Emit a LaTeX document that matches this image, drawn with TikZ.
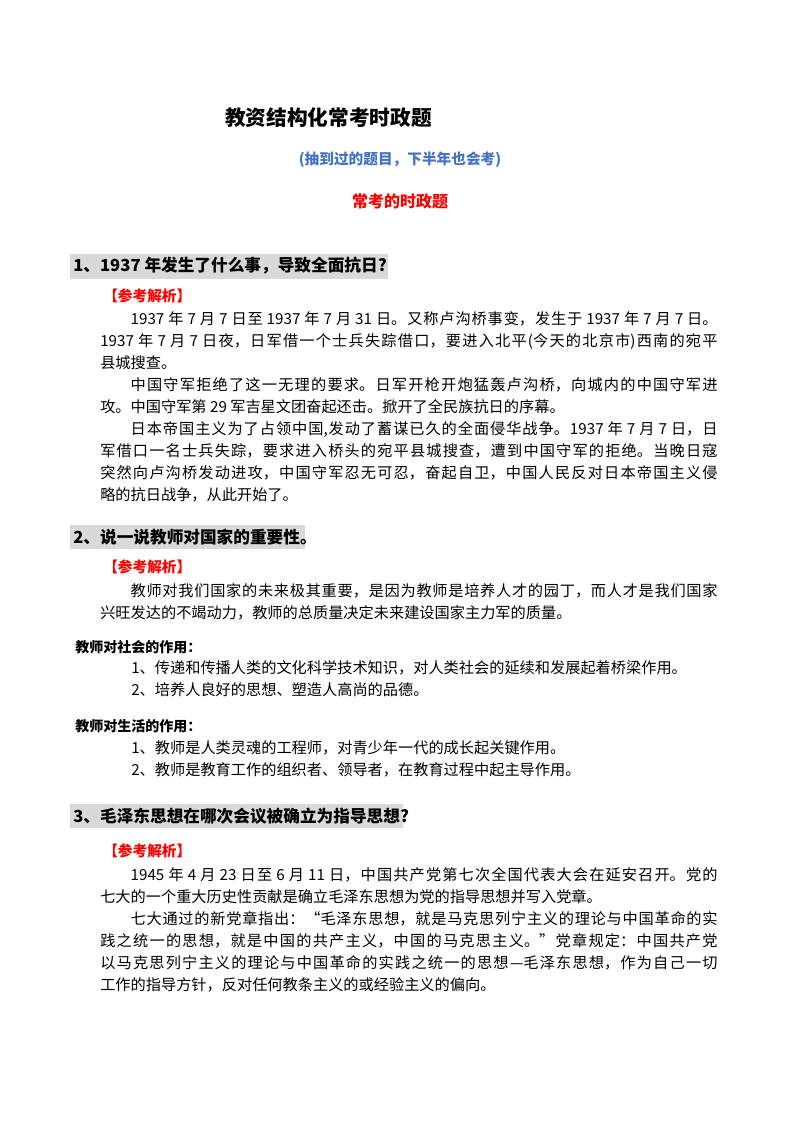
\documentclass[tikz,border=0pt]{standalone}
\usepackage{fontspec}
\setmainfont{Noto Sans CJK SC}
\XeTeXlinebreaklocale "zh"
\XeTeXlinebreakskip=0pt plus 2pt
\definecolor{hblue}{RGB}{68,114,196}
\definecolor{hred}{RGB}{255,0,0}
\definecolor{hgray}{RGB}{217,217,217}
\begin{document}
\begin{tikzpicture}[x=0.75pt,y=-0.75pt,
  para/.style={anchor=north west,inner sep=0pt,text width=463pt,align=justify,font=\fontsize{11.4pt}{16.5pt}\selectfont},
  plain/.style={anchor=west,inner sep=0pt,font=\fontsize{11.4pt}{16.5pt}\selectfont},
  ana/.style={anchor=west,inner sep=0pt,text=hred,font=\fontsize{11pt}{13pt}\selectfont\bfseries},
  head/.style={anchor=west,inner sep=0pt,font=\fontsize{12.5pt}{14pt}\selectfont\bfseries},
  sub/.style={anchor=west,inner sep=0pt,font=\fontsize{10.5pt}{13pt}\selectfont\bfseries},
  hbox/.style={fill=hgray,draw=none}]
\useasboundingbox[fill=white] (0,0) rectangle (800,1132);
\node[anchor=west,inner sep=0pt,font=\fontsize{15.5pt}{17pt}\selectfont\bfseries] (title) at (225,118) {教资结构化常考时政题};
\node[inner sep=0pt,text=hblue,font=\fontsize{11pt}{13pt}\selectfont\bfseries] (subt) at (400,160) {(抽到过的题目，下半年也会考)};
\node[inner sep=0pt,text=hred,font=\fontsize{12pt}{14pt}\selectfont\bfseries] (red) at (400,201) {常考的时政题};
% Q1
\fill[hgray] (70,254) rectangle (388,279);
\node[head] (q1) at (73,266) {1、1937 年发生了什么事，导致全面抗日?};
\node[ana] (a1) at (103,296) {【参考解析】};
\node[para] (p1a) at (100,311) {\hspace*{2em}1937 年 7 月 7 日至 1937 年 7 月 31 日。又称卢沟桥事变，发生于 1937 年 7 月 7 日。\linebreak 1937 年 7 月 7 日夜，日军借一个士兵失踪借口，要进入北平(今天的北京市)西南的宛平\linebreak 县城搜查。\par
\hspace*{2em}中国守军拒绝了这一无理的要求。日军开枪开炮猛轰卢沟桥，向城内的中国守军进\linebreak 攻。中国守军第 29 军吉星文团奋起还击。掀开了全民族抗日的序幕。\par
\hspace*{2em}日本帝国主义为了占领中国,发动了蓄谋已久的全面侵华战争。1937 年 7 月 7 日，日\linebreak 军借口一名士兵失踪，要求进入桥头的宛平县城搜查，遭到中国守军的拒绝。当晚日寇\linebreak 突然向卢沟桥发动进攻，中国守军忍无可忍，奋起自卫，中国人民反对日本帝国主义侵\linebreak 略的抗日战争，从此开始了。};
% Q2
\fill[hgray] (70,525) rectangle (305,549);
\node[head] (q2) at (73,537) {2、说一说教师对国家的重要性。};
\node[ana] (a2) at (103,567) {【参考解析】};
\node[para] (p2) at (100,583) {\hspace*{2em}教师对我们国家的未来极其重要，是因为教师是培养人才的园丁，而人才是我们国家\linebreak 兴旺发达的不竭动力，教师的总质量决定未来建设国家主力军的质量。};
\node[sub] (s1) at (75,647) {教师对社会的作用：};
\node[plain] (s1a) at (131,668) {1、传递和传播人类的文化科学技术知识，对人类社会的延续和发展起着桥梁作用。};
\node[plain] (s1b) at (131,690) {2、培养人良好的思想、塑造人高尚的品德。};
\node[sub] (s2) at (75,726) {教师对生活的作用：};
\node[plain] (s2a) at (131,748) {1、教师是人类灵魂的工程师，对青少年一代的成长起关键作用。};
\node[plain] (s2b) at (131,770) {2、教师是教育工作的组织者、领导者，在教育过程中起主导作用。};
% Q3
\fill[hgray] (70,804) rectangle (403,828);
\node[head] (q3) at (73,816) {3、毛泽东思想在哪次会议被确立为指导思想?};
\node[ana] (a3) at (103,851) {【参考解析】};
\node[para] (p3) at (100,867) {\hspace*{2em}1945 年 4 月 23 日至 6 月 11 日，中国共产党第七次全国代表大会在延安召开。党的\linebreak 七大的一个重大历史性贡献是确立毛泽东思想为党的指导思想并写入党章。\par
\hspace*{2em}七大通过的新党章指出：“毛泽东思想，就是马克思列宁主义的理论与中国革命的实\linebreak 践之统一的思想，就是中国的共产主义，中国的马克思主义。”党章规定：中国共产党\linebreak 以马克思列宁主义的理论与中国革命的实践之统一的思想—毛泽东思想，作为自己一切\linebreak 工作的指导方针，反对任何教条主义的或经验主义的偏向。};
\end{tikzpicture}
\end{document}
